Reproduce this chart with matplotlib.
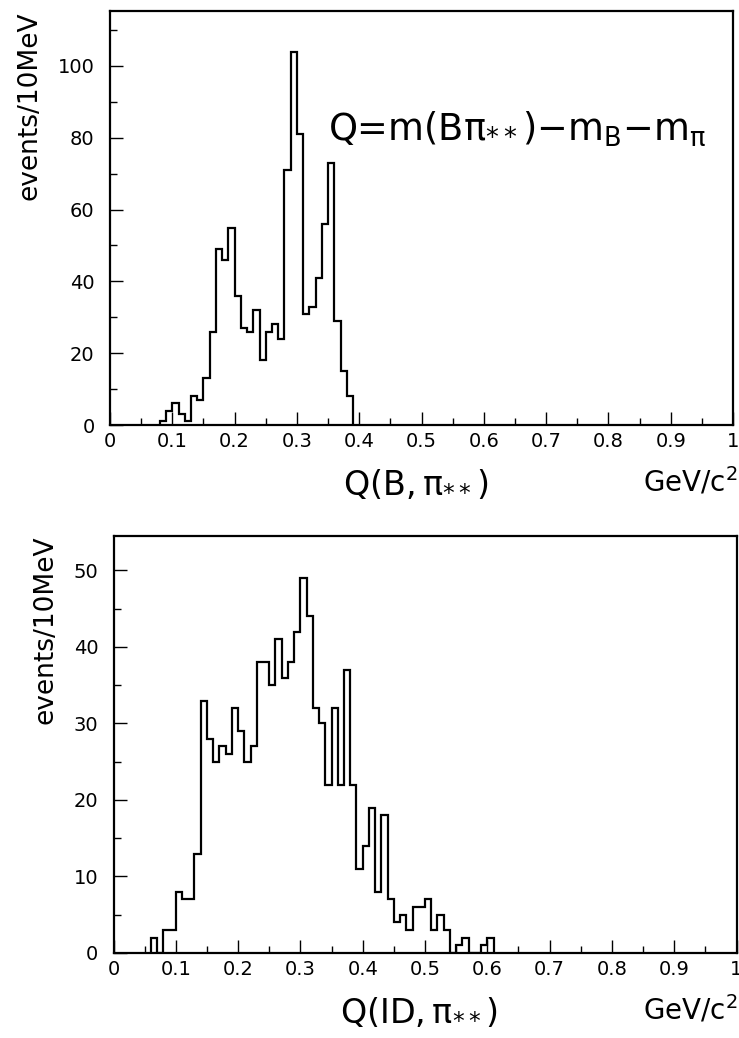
import numpy as np
import matplotlib
matplotlib.use("Agg")
import matplotlib.pyplot as plt
from matplotlib.ticker import MultipleLocator, FuncFormatter

plt.rcParams['font.family'] = ['DejaVu Sans']
plt.rcParams['mathtext.fontset'] = 'dejavusans'

# Histogram contents, 10 MeV bins
bin_width = 0.01

top_first_edge = 0.08
top_counts = [1, 4, 6, 3, 1, 8, 7, 13, 26, 49, 46, 55, 36, 27, 26, 32,
              18, 26, 28, 24, 71, 104, 81, 31, 33, 41, 56, 73, 29, 15, 8]

bottom_first_edge = 0.06
bottom_counts = [2, 0, 3, 3, 8, 7, 7, 13, 33, 28, 25, 27, 26, 32, 29, 25,
                 27, 38, 38, 35, 41, 36, 38, 42, 49, 44, 32, 30, 22, 32,
                 22, 37, 22, 11, 14, 19, 8, 18, 7, 4, 5, 3, 6, 6, 7, 3,
                 5, 3, 0, 1, 2, 0, 0, 1, 2]

x_ticks = [0, 0.1, 0.2, 0.3, 0.4, 0.5, 0.6, 0.7, 0.8, 0.9, 1]
top_ymax = 115.3
bottom_ymax = 54.5

y_label = "events/10MeV"
unit_label = r"GeV/c$^\mathregular{2}$"
top_xlabel = r"$\mathregular{Q(B,π_{**})}$"
bottom_xlabel = r"$\mathregular{Q(ID,π_{**})}$"
formula = r"Q=m(Bπ$_{**}$)−m$_\mathregular{B}$−m$_\mathregular{π}$"

W, H = 739, 1038
fig = plt.figure(figsize=(W / 100, H / 100), dpi=100)


def px_axes(left, top, right, bottom):
    return fig.add_axes([left / W, 1 - bottom / H, (right - left) / W, (bottom - top) / H])


def style(ax, ymax, ymajor, yminor):
    ax.set_xlim(0, 1)
    ax.set_ylim(0, ymax)
    ax.set_xticks(x_ticks)
    ax.xaxis.set_major_formatter(FuncFormatter(lambda v, p: f"{v:g}"))
    ax.xaxis.set_minor_locator(MultipleLocator(0.05))
    ax.yaxis.set_major_locator(MultipleLocator(ymajor))
    ax.yaxis.set_minor_locator(MultipleLocator(yminor))
    ax.tick_params(which='both', direction='in', top=False, right=False,
                   labelsize=14, width=1.0, color='black')
    ax.tick_params(which='major', length=9.5)
    ax.tick_params(which='minor', length=5)
    ax.tick_params(axis='x', pad=5)
    ax.tick_params(axis='y', pad=11)
    for s in ax.spines.values():
        s.set_linewidth(1.6)
    ax.set_ylabel(y_label, fontsize=19, loc='top', labelpad=11)


def draw(ax, first_edge, counts):
    edges = first_edge + bin_width * np.arange(len(counts) + 1)
    ax.stairs(counts, edges, baseline=0, color='black', linewidth=1.6)


ax1 = px_axes(110, 11, 733, 425)
draw(ax1, top_first_edge, top_counts)
style(ax1, top_ymax, 20, 10)
ax1.text(0.35, 0.688, formula, transform=ax1.transAxes, fontsize=26.5,
         ha='left', va='baseline')

ax2 = px_axes(113.5, 536, 736.5, 953)
draw(ax2, bottom_first_edge, bottom_counts)
style(ax2, bottom_ymax, 10, 5)

for ax, lab, ypix in ((ax1, top_xlabel, 485), (ax2, bottom_xlabel, 1013)):
    fig.text(ax.get_position().x0 + 0.49 * ax.get_position().width, 1 - ypix / H,
             lab, fontsize=24, ha='center', va='center')
    fig.text(0.999, 1 - (ypix - 3) / H, unit_label, fontsize=20,
             ha='right', va='center')

fig.savefig("out.png", dpi=100)
